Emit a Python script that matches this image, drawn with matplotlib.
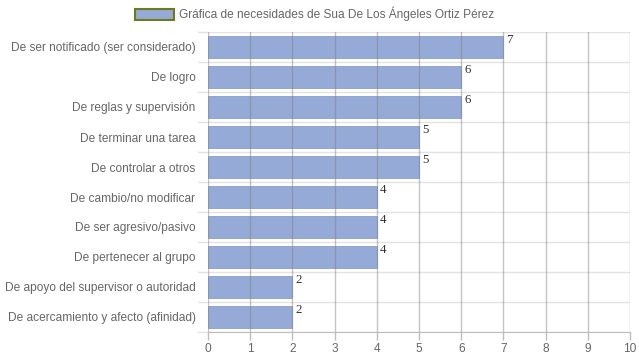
import matplotlib
matplotlib.use("Agg")
import matplotlib.pyplot as plt
from matplotlib.patches import Patch

categories = [
    "De ser notificado (ser considerado)",
    "De logro",
    "De reglas y supervisión",
    "De terminar una tarea",
    "De controlar a otros",
    "De cambio/no modificar",
    "De ser agresivo/pasivo",
    "De pertenecer al grupo",
    "De apoyo del supervisor o autoridad",
    "De acercamiento y afecto (afinidad)",
]
values = [7, 6, 6, 5, 5, 4, 4, 4, 2, 2]
xticks = list(range(0, 11))
series_label = "Gráfica de necesidades de Sua De Los Ángeles Ortiz Pérez"

plt.rcParams['font.family'] = ['Liberation Sans', 'DejaVu Sans']

fig = plt.figure(figsize=(6.39, 3.6), dpi=100)
ax = fig.add_axes([208/639, 1-332/360, (630-208)/639, 300/360])

n = len(categories)
ys = list(range(n))
bar_color = "#95aad6"
ax.barh(ys, values, height=0.75, color=bar_color, edgecolor="#8a9fcf", linewidth=0.6, zorder=2)

ax.set_ylim(n - 0.5, -0.5)
ax.set_xlim(0, 10)
ax.set_xticks(xticks)
ax.set_xticklabels([str(t) for t in xticks])
ax.set_yticks(ys)
ax.set_yticklabels(categories)

# grid lines
for x in xticks:
    ax.axvline(x, color="#7f7f7f", alpha=0.45, linewidth=1, zorder=3)
for i in range(n + 1):
    ax.axhline(i - 0.5, color="#e3e3e3", linewidth=1, zorder=1)

for s in ["top", "right", "left"]:
    ax.spines[s].set_visible(False)
ax.spines["bottom"].set_color("#bdbdbd")
ax.spines["bottom"].set_zorder(4)

ax.tick_params(axis="x", colors="#bdbdbd", labelcolor="#666666", labelsize=8.6, length=6, width=1, pad=2)
ax.tick_params(axis="y", colors="#e3e3e3", labelcolor="#666666", labelsize=8.6, length=0, width=1, pad=9)
# left extension of horizontal grid lines (Chart.js offset grid)
for i in range(n + 1):
    ax.plot([-0.24, 0], [i - 0.5, i - 0.5], color="#e3e3e3", linewidth=1, clip_on=False, zorder=1)

for y, v in zip(ys, values):
    ax.text(v + 0.07, y - 0.42, str(v), family="Liberation Serif", fontsize=9.3,
            color="#333333", ha="left", va="top", zorder=5)

handle = Patch(facecolor=bar_color, edgecolor="#6e7a1e", linewidth=1.5)
fig.legend([handle], [series_label], loc="center", bbox_to_anchor=(315/639, 1-14/360),
           frameon=False, fontsize=8.6, labelcolor="#666666", handlelength=3.2, handleheight=1.0,
           handletextpad=0.5, borderpad=0)

fig.savefig("out.png", dpi=100)
